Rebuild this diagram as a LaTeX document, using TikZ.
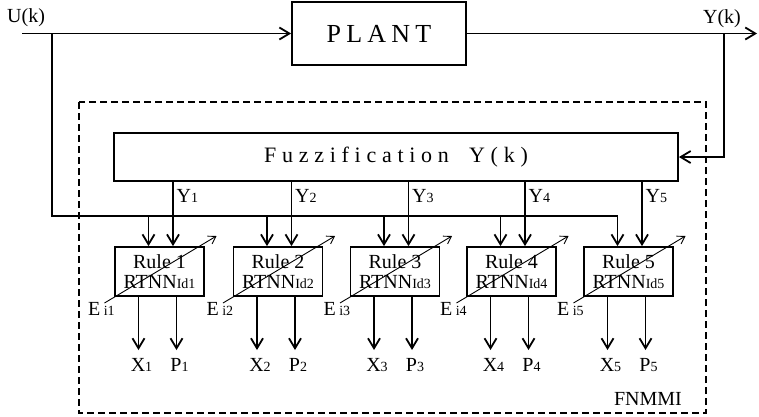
\documentclass[tikz,border=0pt]{standalone}
\usepackage{fontspec}
\setmainfont{Liberation Serif}
\usetikzlibrary{arrows.meta,positioning,calc}

% small index set on the baseline
\newcommand{\smsub}[1]{{\fontsize{14}{14}\selectfont #1}}

\tikzset{
  sig/.style={line width=1.8pt},
  sigarr/.style={sig, -{Straight Barb[length=10pt,width=12pt]}},
  blockbox/.style={draw, line width=1.8pt, inner sep=0pt},
  lbl/.style={font=\fontsize{20}{22}\selectfont, inner sep=0pt},
}

\begin{document}
\begin{tikzpicture}[x=1pt,y=-1pt]
    \useasboundingbox (0,0) rectangle (759,416);

    % Plant block
    \node[blockbox, minimum width=174pt, minimum height=63pt,
          font=\fontsize{26}{28}\selectfont\addfontfeature{LetterSpace=20}] (plant) at (379,33.5) {PLANT};

    % Input and output signals
    \coordinate (uin) at (22,33.5);
    \coordinate (ubr) at (52,33.5);
    \coordinate (yout) at (757,33.5);
    \coordinate (ybr) at (724,33.5);
    \node[lbl, anchor=base west] (ulbl) at (7,22) {U(k)};
    \node[lbl, anchor=base] (ylbl) at (722,23) {Y(k)};
    \draw[sigarr] (uin) -- (plant.west);
    \draw[sigarr] (plant.east) -- (yout);

    % FNMMI frame
    \draw[line width=1.2pt, dash pattern=on 7pt off 4pt] (79,102) rectangle (706,413);
    \node[lbl, anchor=base east] (fnmmi) at (682,405) {FNMMI};

    % Fuzzification block fed by Y(k)
    \node[blockbox, minimum width=564pt, minimum height=48pt,
          font=\fontsize{22}{24}\selectfont\addfontfeature{LetterSpace=26}] (fuzz) at (396,157) {Fuzzification\hspace{9pt} Y(k)};
    \draw[sigarr] (ybr) |- (fuzz.east);

    % U(k) bus to the rules
    \coordinate (ubus) at (617.5,216);
    \draw[sig] (ubr) |- (ubus);

    % Rules
    \foreach \i/\c in {1/159.5,2/278,3/395,4/511.5,5/628.5} {
        \node[blockbox, minimum width=89pt, minimum height=49pt, align=center,
              font=\fontsize{20}{20}\selectfont] (rule\i) at (\c,271.5) {Rule \i\\RTNN\smsub{Id\i}};

        % inputs from the bus and from the fuzzifier
        \coordinate (ux\i) at ({\c-11},216);
        \coordinate (yx\i) at ({\c+13.5},216);
        \draw[sigarr] (ux\i) -- (rule\i.north -| ux\i);
        \draw[sigarr] (fuzz.south -| yx\i) -- (rule\i.north -| yx\i);
        \node[lbl, anchor=base west] (ylab\i) at ({\c+17},202) {Y\smsub{\i}};

        % tuning arrow
        \coordinate (et\i) at ({\c-55},303);
        \coordinate (eh\i) at ({\c+57},236);
        \draw[line width=0.9pt, -{Straight Barb[length=7pt,width=9pt]}] (et\i) -- (eh\i);
        \node[lbl, anchor=base west] (elab\i) at ({\c-71.5},315) {E\,\smsub{i\i}};

        % outputs
        \coordinate (xo\i) at ({\c-21},350);
        \coordinate (po\i) at ({\c+17},350);
        \draw[sigarr] (rule\i.south -| xo\i) -- (xo\i);
        \draw[sigarr] (rule\i.south -| po\i) -- (po\i);
        \node[lbl, anchor=base] (xlab\i) at ({\c-18},371) {X\smsub{\i}};
        \node[lbl, anchor=base] (plab\i) at ({\c+20},371) {P\smsub{\i}};
    }

\end{tikzpicture}
\end{document}
